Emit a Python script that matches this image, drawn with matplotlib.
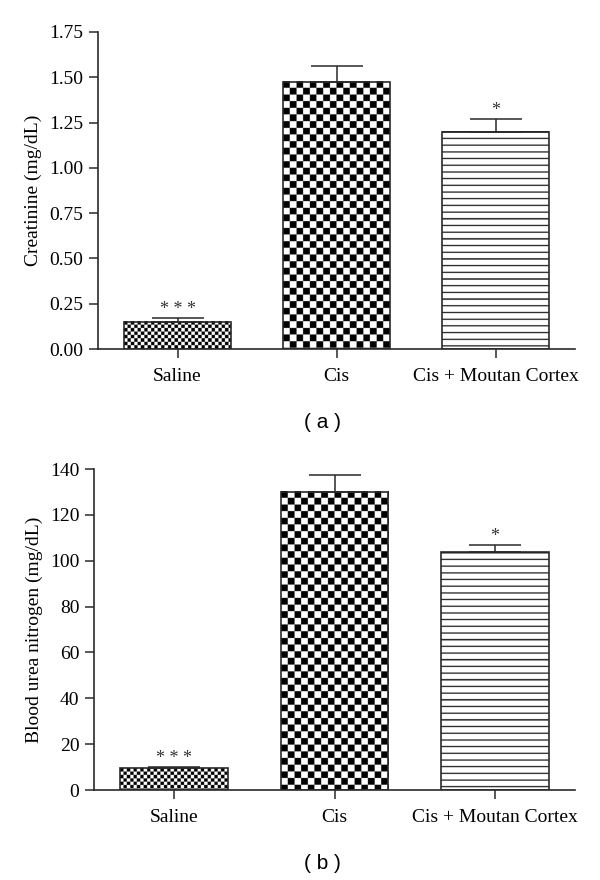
"""
plot.py

Creatinine and blood urea nitrogen bar charts for saline, cisplatin and
cisplatin + Moutan Cortex groups.
"""
import matplotlib
matplotlib.use("Agg")
import matplotlib.pyplot as plt
import numpy as np

groups = ["Saline", "Cis", "Cis + Moutan Cortex"]
creatinine = [0.15, 1.475, 1.20]
creatinine_err = [0.02, 0.088, 0.07]
bun = [9.5, 130.0, 103.6]
bun_err = [0.4, 7.2, 3.1]
stars = ["* * *", "", "*"]
patterns = ["fine", "coarse", "lines"]

plt.rcParams["font.family"] = ["Liberation Serif", "DejaVu Serif"]
EDGE = "#2a2a2a"
SS = 4  # supersampling of the fill patterns


def fill_pattern(ax, bar, kind):
    """Paint a pixel pattern inside a bar, clipped to the bar outline."""
    x0, y0 = bar.get_x(), bar.get_y()
    w, h = bar.get_width(), bar.get_height()
    (px0, py0), (px1, py1) = ax.transData.transform([(x0, y0), (x0 + w, y0 + h)])
    nx, ny = int(round((px1 - px0) * SS)), int(round((py1 - py0) * SS))
    cols, rows = np.meshgrid(np.arange(nx) / SS, np.arange(ny) / SS)
    if kind == "fine":
        c = 3.35
        img = (np.floor(cols / c) + np.floor(rows / c)) % 2
    elif kind == "coarse":
        c = 6.65
        img = (np.floor(cols / c) + np.floor(rows / c)) % 2
    else:
        img = np.where((rows % 6.67) < 1.3, 0.12, 1.0)
    ax.imshow(img, extent=(x0, x0 + w, y0, y0 + h), origin="upper", cmap="gray",
              vmin=0, vmax=1, interpolation="antialiased", aspect="auto", zorder=2,
              clip_path=bar)


def panel(fig, rect, values, errs, ylim, yticks, fmt, ylabel):
    ax = fig.add_axes(rect)
    x = np.arange(len(groups))
    ax.set_xlim(-0.5, 2.5)
    ax.set_ylim(*ylim)
    bars = ax.bar(x, values, width=0.67, facecolor="none", edgecolor=EDGE,
                  linewidth=1.2, zorder=3)
    for b, kind in zip(bars, patterns):
        fill_pattern(ax, b, kind)
    ax.errorbar(x, values, yerr=[np.zeros(len(values)), errs], fmt="none",
                ecolor=EDGE, elinewidth=1.1, capsize=19, capthick=1.1, zorder=4)
    for xi, v, e, s in zip(x, values, errs, stars):
        if s:
            ax.annotate(s, (xi, v + e), xytext=(0, 0), textcoords="offset points",
                        ha="center", va="bottom", fontsize=13, color="#333333")
    ax.set_xlim(-0.5, 2.5)
    ax.set_ylim(*ylim)
    ax.set_xticks(x)
    ax.set_xticklabels(groups, fontsize=14)
    ax.set_yticks(yticks)
    ax.set_yticklabels([fmt.format(t) for t in yticks], fontsize=14)
    ax.set_ylabel(ylabel, fontsize=14, labelpad=5)
    for side in ["top", "right"]:
        ax.spines[side].set_visible(False)
    for side in ["left", "bottom"]:
        ax.spines[side].set_color(EDGE)
        ax.spines[side].set_linewidth(1.2)
    ax.tick_params(direction="out", length=6.5, width=1.1, color=EDGE, pad=4)
    ax.tick_params(axis="x", pad=7)
    return ax


fig = plt.figure(figsize=(6, 8.8), dpi=100)

panel(fig, [98 / 600, 1 - 349 / 880, 477 / 600, 317 / 880],
      creatinine, creatinine_err, (0, 1.75),
      [0, 0.25, 0.5, 0.75, 1.0, 1.25, 1.5, 1.75], "{:.2f}", "Creatinine (mg/dL)")
panel(fig, [94 / 600, 1 - 790 / 880, 481 / 600, 321 / 880],
      bun, bun_err, (0, 140),
      [0, 20, 40, 60, 80, 100, 120, 140], "{:.0f}", "Blood urea nitrogen (mg/dL)")

fig.text(322 / 600, 1 - 422 / 880, "( a )", ha="center", va="center",
         fontsize=15, family=["Liberation Sans", "DejaVu Sans"])
fig.text(322 / 600, 1 - 863 / 880, "( b )", ha="center", va="center",
         fontsize=15, family=["Liberation Sans", "DejaVu Sans"])

fig.savefig("out.png", dpi=100)
